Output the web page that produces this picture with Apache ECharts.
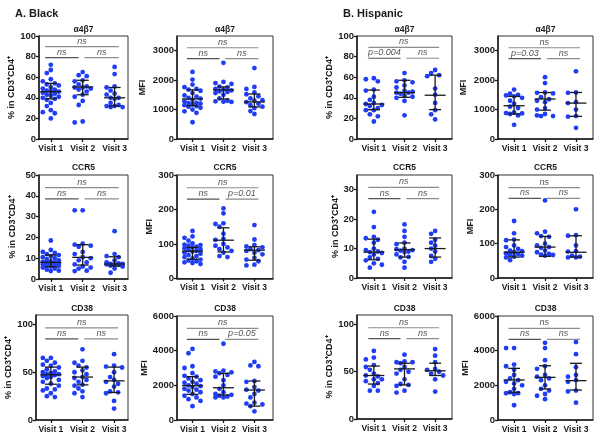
<!DOCTYPE html>
<html><head><meta charset="utf-8">
<script src="https://cdn.jsdelivr.net/npm/echarts@6/dist/echarts.min.js"></script>
<style>html,body{margin:0;padding:0;background:#fff}#c{width:602px;height:441px}</style>
</head><body><div id="c"></div>
<script>
// ---------------- DATA ----------------
const visits = ['Visit 1', 'Visit 2', 'Visit 3'];
const markerTitles = ['α4β7', 'CCR5', 'CD38'];
const groupTitles = ['A. Black', 'B. Hispanic'];
const pctName = '% in CD3⁺CD4⁺';
const mfiName = 'MFI';

// y tick labels
const ticksPct100 = [0, 20, 40, 60, 80, 100];
const ticksMfi3000 = [0, 1000, 2000, 3000];
const ticksPct50 = [0, 10, 20, 30, 40, 50];
const ticksMfi300 = [0, 100, 200, 300];
const ticksPct30 = [0, 10, 20, 30];
const ticksPct100b = [0, 50, 100];
const ticksMfi6000 = [0, 2000, 4000, 6000];

// Black, a4b7, % in CD3+CD4+
const blackA4b7Pct = [
  [72, 67, 64, 58, 56, 54, 53, 52, 50, 49, 48, 47, 46, 46, 45, 44, 43, 42, 41, 40, 39, 38, 35, 32, 28, 26, 25, 20],
  [65, 62, 61, 57, 56, 53, 51, 50, 50, 49, 48, 46, 43, 41, 37, 33, 17, 16],
  [70, 63, 51, 50, 47, 44, 43, 40, 40, 39, 35, 33, 32, 32, 31, 31]
];
const blackA4b7PctStats = [[46, 39, 54], [50.5, 43, 57], [40, 32, 50]]; // median, q1, q3
const blackA4b7PctSig = ['ns', 'ns', 'ns']; // V1-V3, V1-V2, V2-V3

// Black, a4b7, MFI
const blackA4b7Mfi = [
  [2280, 2020, 1850, 1760, 1700, 1680, 1640, 1560, 1480, 1440, 1400, 1370, 1330, 1280, 1230, 1220, 1200, 1180, 1150, 1120, 1100, 1060, 1000, 940, 890, 570],
  [2590, 1940, 1900, 1870, 1780, 1750, 1700, 1680, 1650, 1620, 1600, 1560, 1500, 1380, 1300, 1280, 1270, 1260],
  [2410, 1770, 1700, 1580, 1520, 1450, 1380, 1320, 1300, 1250, 1200, 1150, 1100, 1050, 950, 850]
];
const blackA4b7MfiStats = [[1360, 1130, 1670], [1670, 1360, 1770], [1260, 1090, 1530]];
const blackA4b7MfiSig = ['ns', 'ns', 'ns'];

// Hispanic, a4b7, %
const hispA4b7Pct = [
  [59, 58, 56, 48, 47, 41, 38, 35, 34, 33, 32, 30, 28, 28, 24, 22, 17],
  [64, 57, 56, 55, 52, 50, 47, 46, 45, 45, 44, 42, 41, 40, 37, 23],
  [67, 64, 62, 61, 49, 43, 35, 28, 24, 19]
];
const hispA4b7PctStats = [[34, 28.5, 47.5], [45, 40.5, 57], [42.5, 28.5, 62]];
const hispA4b7PctSig = ['ns', 'p=0.004', 'ns'];

// Hispanic, a4b7, MFI
const hispA4b7Mfi = [
  [1680, 1540, 1500, 1480, 1450, 1400, 1300, 1200, 1100, 1050, 900, 880, 870, 850, 800, 480],
  [2100, 1900, 1580, 1570, 1550, 1420, 1350, 1300, 1250, 1050, 1000, 850, 800, 780, 780],
  [2300, 1580, 1570, 1250, 1220, 1000, 780, 760, 380]
];
const hispA4b7MfiStats = [[1130, 850, 1450], [1360, 980, 1580], [1220, 770, 1580]];
const hispA4b7MfiSig = ['ns', 'p=0.03', 'ns'];

// Black, CCR5, %
const blackCcr5Pct = [
  [18.5, 14, 13, 12.5, 12, 11.5, 11, 10.5, 10, 9.5, 9, 8.5, 8.2, 8, 7.8, 7.5, 7.2, 7, 6.8, 6.5, 6.2, 6, 5.5, 5, 4.5, 4, 3.8],
  [33, 33, 17, 16.5, 16, 15.5, 13, 12, 10.5, 10, 9, 8, 7, 6, 5.5, 5, 4, 3.8],
  [23, 12, 11, 10.5, 9, 8, 7.5, 7.3, 7.2, 7, 7, 6.8, 6.5, 6, 5, 3]
];
const blackCcr5PctStats = [[8, 5.9, 11.5], [10.4, 6.7, 16.5], [7.2, 6.2, 10.7]];
const blackCcr5PctSig = ['ns', 'ns', 'ns'];

// Black, CCR5, MFI
const blackCcr5Mfi = [
  [138, 122, 118, 110, 102, 98, 97, 95, 92, 90, 88, 85, 82, 80, 78, 75, 72, 68, 65, 62, 58, 55, 52, 50, 47, 45, 42],
  [203, 189, 160, 158, 150, 130, 115, 112, 100, 95, 90, 85, 80, 75, 65, 62],
  [155, 113, 97, 93, 90, 85, 82, 80, 75, 70, 60, 55, 50, 40, 38]
];
const blackCcr5MfiStats = [[79, 56, 90], [111, 77, 147], [82, 53, 92]];
const blackCcr5MfiSig = ['ns', 'ns', 'p=0.01'];

// Hispanic, CCR5, %
const hispCcr5Pct = [
  [22.5, 17.3, 14, 13.5, 13, 12, 10, 9.5, 9, 8.8, 8.5, 8, 7, 6.5, 6, 5, 4.5, 3.5],
  [18.2, 16, 14, 12, 11.5, 10, 9.8, 9.5, 9.3, 9, 8.8, 8, 7.2, 7, 5.5, 3.5],
  [16, 15, 13, 12, 11, 10, 9, 7.5, 6.5, 5.5]
];
const hispCcr5PctStats = [[8.8, 6.2, 13.2], [9.6, 7.1, 11.9], [10, 7.1, 13.6]];
const hispCcr5PctSig = ['ns', 'ns', 'ns'];

// Hispanic, CCR5, MFI
const hispCcr5Mfi = [
  [166, 130, 112, 110, 95, 90, 85, 80, 78, 75, 72, 70, 68, 65, 62, 60, 52],
  [226, 135, 130, 122, 120, 100, 95, 90, 88, 80, 75, 70, 68, 67, 65],
  [200, 125, 123, 95, 78, 77, 65, 62, 60, 60]
];
const hispCcr5MfiStats = [[75, 61, 111], [90, 63, 121], [75, 61, 123]];
const hispCcr5MfiSig = ['ns', 'ns', 'ns'];

// Black, CD38, %
const blackCd38Pct = [
  [65, 65, 62, 60, 58, 57, 55, 53, 51, 50, 49, 48, 48, 47, 46, 45, 44, 42, 40, 38, 36, 33, 32, 31, 28, 25, 24],
  [74, 62, 60, 57, 55, 52, 50, 48, 45, 44, 42, 40, 37, 36, 33, 30, 28, 24],
  [69, 57, 56, 55, 50, 45, 42, 40, 38, 35, 30, 29, 28, 20, 12]
];
const blackCd38PctStats = [[47.4, 37.5, 55.4], [45, 36.8, 55.4], [41, 28.8, 55.4]];
const blackCd38PctSig = ['ns', 'ns', 'ns'];

// Black, CD38, MFI
const blackCd38Mfi = [
  [4100, 3850, 3100, 3000, 2700, 2550, 2500, 2400, 2300, 2200, 2150, 2100, 2000, 1950, 1900, 1800, 1750, 1700, 1600, 1500, 1400, 1300, 1200, 1100, 800],
  [4400, 2850, 2800, 2750, 2700, 2600, 2500, 2300, 2000, 1800, 1600, 1500, 1450, 1400, 1350, 1300, 1300],
  [3350, 3150, 3100, 2250, 2200, 1900, 1750, 1700, 1500, 1300, 1000, 950, 900, 800, 500]
];
const blackCd38MfiStats = [[1980, 1480, 2500], [1860, 1440, 2690], [1730, 800, 2250]];
const blackCd38MfiSig = ['ns', 'ns', 'p=0.05'];

// Hispanic, CD38, %
const hispCd38Pct = [
  [72, 65, 63, 57, 55, 52, 48, 46, 45, 42, 42, 40, 38, 35, 30, 30],
  [68, 61, 60, 60, 59, 55, 52, 50, 48, 42, 37, 36, 35, 30, 28],
  [74, 67, 60, 53, 52, 50, 48, 46, 42, 29]
];
const hispCd38PctStats = [[46, 37, 56], [53, 36, 59], [51, 46, 59]];
const hispCd38PctSig = ['ns', 'ns', 'ns'];

// Hispanic, CD38, MFI
const hispCd38Mfi = [
  [4150, 4150, 3200, 3100, 2900, 2600, 2400, 2300, 2200, 2100, 2000, 1800, 1600, 1550, 1550, 1500, 850],
  [4450, 4150, 3450, 3100, 2950, 2600, 2500, 2400, 2300, 2000, 1800, 1700, 1500, 1400, 1200],
  [4500, 3800, 3050, 2600, 2500, 2300, 2200, 1700, 1650, 1000]
];
const hispCd38MfiStats = [[2310, 1600, 2980], [2460, 1790, 3130], [2270, 1730, 3270]];
const hispCd38MfiSig = ['ns', 'ns', 'ns'];

// ---------------- LAYOUT / STYLE ----------------
const FONT = '"Liberation Sans", Arial, Helvetica, sans-serif';
const DOT = '#1f3df5';
const INK = '#1a1a1a';

const panels = [
  {d: blackA4b7Pct, s: blackA4b7PctStats, sig: blackA4b7PctSig, t: 0, name: pctName, ticks: ticksPct100, max: 100, box: [39, 36, 89, 103], xr: [0.63, 3.42], br: [89.7, 79], gap: 22},
  {d: blackA4b7Mfi, s: blackA4b7MfiStats, sig: blackA4b7MfiSig, t: 0, name: mfiName, ticks: ticksMfi3000, max: 3500, box: [177, 36, 96, 103], xr: [0.5, 3.6], br: [3100, 2730], gap: 30},
  {d: hispA4b7Pct, s: hispA4b7PctStats, sig: hispA4b7PctSig, t: 0, name: pctName, ticks: ticksPct100, max: 100, box: [357, 36, 95, 103], xr: [0.45, 3.55], br: [89, 78.4], gap: 18},
  {d: hispA4b7Mfi, s: hispA4b7MfiStats, sig: hispA4b7MfiSig, t: 0, name: mfiName, ticks: ticksMfi3000, max: 3500, box: [498, 36, 95, 103], xr: [0.48, 3.55], br: [3100, 2730], gap: 30},

  {d: blackCcr5Pct, s: blackCcr5PctStats, sig: blackCcr5PctSig, t: 1, name: pctName, ticks: ticksPct50, max: 50, box: [39, 175, 89, 104], xr: [0.63, 3.42], br: [43.9, 38.5], gap: 22},
  {d: blackCcr5Mfi, s: blackCcr5MfiStats, sig: blackCcr5MfiSig, t: 1, name: mfiName, ticks: ticksMfi300, max: 300, box: [177, 175, 96, 103.5], xr: [0.5, 3.6], br: [263, 230], gap: 17},
  {d: hispCcr5Pct, s: hispCcr5PctStats, sig: hispCcr5PctSig, t: 1, name: pctName, ticks: ticksPct30, max: 35, box: [357, 175, 95, 103], xr: [0.45, 3.55], br: [30.8, 27], gap: 17},
  {d: hispCcr5Mfi, s: hispCcr5MfiStats, sig: hispCcr5MfiSig, t: 1, name: mfiName, ticks: ticksMfi300, max: 300, box: [498, 175, 95, 103], xr: [0.48, 3.55], br: [263, 232], gap: 16},

  {d: blackCd38Pct, s: blackCd38PctStats, sig: blackCd38PctSig, t: 2, name: pctName, ticks: ticksPct100b, max: 110, box: [36, 315, 92, 105], xr: [0.53, 3.44], br: [96.5, 85], gap: 19},
  {d: blackCd38Mfi, s: blackCd38MfiStats, sig: blackCd38MfiSig, t: 2, name: mfiName, ticks: ticksMfi6000, max: 6000, box: [177, 316, 96, 104], xr: [0.5, 3.6], br: [5288, 4654], gap: 25},
  {d: hispCd38Pct, s: hispCd38PctStats, sig: hispCd38PctSig, t: 2, name: pctName, ticks: ticksPct100b, max: 110, box: [357, 315, 95, 104], xr: [0.45, 3.55], br: [96.5, 85], gap: 17},
  {d: hispCd38Mfi, s: hispCd38MfiStats, sig: hispCd38MfiSig, t: 2, name: mfiName, ticks: ticksMfi6000, max: 6000, box: [498, 316, 95, 104], xr: [0.48, 3.55], br: [5288, 4654], gap: 26}
];

// deterministic scatter-dot spreading: returns x offsets (axis units), limited width
function swarm(values, pxX, pxY) {
  const order = values.map((v, i) => i).sort((a, b) => values[b] - values[a]);
  const placed = [];
  const off = new Array(values.length);
  const stepPx = 4, minD = 4.8, maxK = 2;
  const cands = [0];
  for (let j = 1; j <= maxK; j++) cands.push(-j * stepPx, j * stepPx);
  for (const i of order) {
    const v = values[i];
    let best = 0, bestD = -1;
    for (const c of cands) {
      let dmin = Infinity;
      placed.forEach(p => {
        const dx = p.x - c, dy = (p.y - v) * pxY;
        dmin = Math.min(dmin, Math.sqrt(dx * dx + dy * dy));
      });
      if (dmin >= minD) { best = c; bestD = dmin; break; }
      if (dmin > bestD) { bestD = dmin; best = c; }
    }
    placed.push({x: best, y: v});
    off[i] = best / pxX;
  }
  return off;
}

const grid = [], xAxis = [], yAxis = [], series = [], graphic = [];
const brColors = ['#8c8c8c', '#555555', '#8c8c8c'];

panels.forEach((p, gi) => {
  const [L, T, W, H] = p.box;
  grid.push({left: L, top: T, width: W, height: H, show: true, borderColor: '#333', borderWidth: 1, containLabel: false});
  xAxis.push({
    gridIndex: gi, type: 'value', min: p.xr[0], max: p.xr[1],
    axisLine: {onZero: false, lineStyle: {color: INK, width: 1.5}},
    axisTick: {customValues: [1, 2, 3], length: 3, lineStyle: {color: INK, width: 1.3}},
    axisLabel: {customValues: [1, 2, 3], formatter: v => visits[Math.round(v) - 1], color: INK, fontSize: 8.5, fontWeight: 'bold', fontFamily: FONT, margin: 5},
    splitLine: {show: false}
  });
  yAxis.push({
    gridIndex: gi, type: 'value', min: 0, max: p.max,
    name: p.name, nameLocation: 'middle', nameRotate: 90, nameGap: p.gap,
    nameTextStyle: {color: INK, fontSize: 9, fontWeight: 'bold', fontFamily: FONT},
    axisLine: {onZero: false, lineStyle: {color: INK, width: 1.5}},
    axisTick: {customValues: p.ticks, length: 3, lineStyle: {color: INK, width: 1.3}},
    axisLabel: {customValues: p.ticks, formatter: v => String(v), color: INK, fontSize: 9.5, fontWeight: 'bold', fontFamily: FONT, margin: 3},
    splitLine: {show: false}
  });
  const pxX = W / (p.xr[1] - p.xr[0]);
  const pxY = H / p.max;
  const pts = [];
  p.d.forEach((vals, vi) => {
    const off = swarm(vals, pxX, pxY);
    vals.forEach((v, k) => pts.push([vi + 1 + off[k], v]));
  });
  series.push({type: 'scatter', xAxisIndex: gi, yAxisIndex: gi, data: pts, symbolSize: 4.8,
    itemStyle: {color: DOT, opacity: 1}, silent: true, z: 2, animation: false});
  series.push({
    type: 'custom', xAxisIndex: gi, yAxisIndex: gi, z: 4, silent: true, animation: false,
    data: p.s.map((st, vi) => [vi + 1, st[0], st[1], st[2]]),
    encode: {x: 0, y: [1, 2, 3]},
    renderItem: (params, api) => {
      const x = api.value(0);
      const pm = api.coord([x, api.value(1)]);
      const p1 = api.coord([x, api.value(2)]);
      const p3 = api.coord([x, api.value(3)]);
      const st = {stroke: INK, lineWidth: 1.3};
      const hw = 10.5, cw = 6;
      return {type: 'group', children: [
        {type: 'line', shape: {x1: pm[0] - hw, y1: pm[1], x2: pm[0] + hw, y2: pm[1]}, style: st},
        {type: 'line', shape: {x1: p1[0], y1: p1[1], x2: p3[0], y2: p3[1]}, style: st},
        {type: 'line', shape: {x1: p1[0] - cw, y1: p1[1], x2: p1[0] + cw, y2: p1[1]}, style: st},
        {type: 'line', shape: {x1: p3[0] - cw, y1: p3[1], x2: p3[0] + cw, y2: p3[1]}, style: st}
      ]};
    }
  });
  const segs = [[1 - 0.18, 3 + 0.13, p.br[0]], [1 - 0.18, 2 - 0.13, p.br[1]], [2 + 0.06, 3 + 0.13, p.br[1]]];
  series.push({
    type: 'custom', xAxisIndex: gi, yAxisIndex: gi, z: 3, silent: true, animation: false,
    data: segs, encode: {x: [0, 1], y: 2},
    renderItem: (params, api) => {
      const a = api.coord([api.value(0), api.value(2)]);
      const b = api.coord([api.value(1), api.value(2)]);
      const i = params.dataIndex;
      return {type: 'group', children: [
        {type: 'line', shape: {x1: a[0], y1: a[1], x2: b[0], y2: b[1]}, style: {stroke: brColors[i], lineWidth: 1.2}},
        {type: 'text', style: {text: p.sig[i], x: (a[0] + b[0]) / 2, y: a[1] - 1, align: 'center', verticalAlign: 'bottom',
          fontSize: 9, fontStyle: 'italic', fontFamily: FONT, fill: '#555'}}
      ]};
    }
  });
  const titleY = [30, 168, 309][p.t];
  graphic.push({type: 'text', x: L + W / 2, y: titleY, style: {text: markerTitles[p.t], align: 'center', verticalAlign: 'middle',
    fontSize: 8.5, fontWeight: 'bold', fontFamily: FONT, fill: INK}});
});

graphic.push({type: 'text', x: 15, y: 14, style: {text: groupTitles[0], align: 'left', verticalAlign: 'middle', fontSize: 11, fontWeight: 'bold', fontFamily: FONT, fill: INK}});
graphic.push({type: 'text', x: 343, y: 14, style: {text: groupTitles[1], align: 'left', verticalAlign: 'middle', fontSize: 11, fontWeight: 'bold', fontFamily: FONT, fill: INK}});

const chart = echarts.init(document.getElementById('c'), null, {renderer: 'canvas'});
chart.setOption({animation: false, backgroundColor: '#fff', grid, xAxis, yAxis, series, graphic});
</script>
</body></html>
